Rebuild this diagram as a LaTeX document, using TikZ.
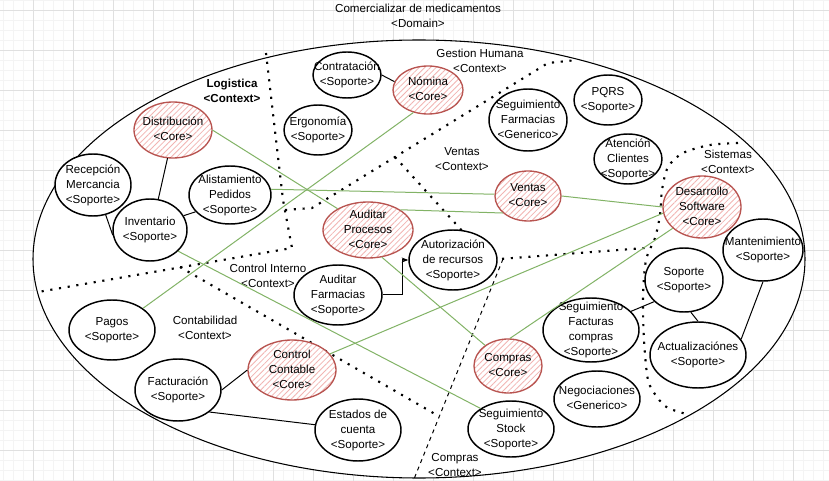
\documentclass[tikz,border=0pt]{standalone}
\usepackage{fontspec}
\setmainfont{Liberation Sans}
\usetikzlibrary{arrows.meta,shapes.geometric,patterns.meta}
\definecolor{coreline}{HTML}{B85450}
\definecolor{corehatch}{HTML}{F2B4B2}
\definecolor{linkgreen}{HTML}{82B366}
\definecolor{gridmajor}{HTML}{E0E0E0}
\definecolor{gridminor}{HTML}{F4F4F4}
\newcommand\lbl[1]{\makebox[0pt]{\smash{\raisebox{-2.6pt}{\begin{tabular}{@{}c@{}}#1\end{tabular}}}}}

\begin{document}
\begin{tikzpicture}[x=0.75pt,y=-0.75pt,>={Stealth[length=5pt]},
    font=\fontsize{8.7}{11.25}\selectfont,
    sz/.style 2 args={minimum width=#1*1.5pt,minimum height=#2*1.5pt},
    soporte/.style={ellipse,draw=black,line width=1.1pt,fill=white,inner sep=0pt},
    core/.style={ellipse,draw=coreline,line width=1pt,inner sep=0pt,preaction={fill=white},
      pattern={Lines[angle=45,distance=3pt,line width=0.6pt]},pattern color=corehatch},
    ctx/.style={align=center,inner sep=0pt},
    bound/.style={line width=1.6pt,dash pattern=on 1.6pt off 5pt},
    link/.style={linkgreen,line width=0.75pt},
    rel/.style={black,line width=0.75pt}]
\useasboundingbox (0,0) rectangle (829,481);

% grid
\foreach \gx in {3,13,...,823} \draw[gridminor,line width=0.4pt] (\gx,0) -- (\gx,481);
\foreach \gy in {0,10,...,480} \draw[gridminor,line width=0.4pt] (0,\gy) -- (829,\gy);
\foreach \gx in {33,73,...,793} \draw[gridmajor,line width=0.6pt] (\gx,0) -- (\gx,481);
\foreach \gy in {10,50,...,450} \draw[gridmajor,line width=0.6pt] (0,\gy) -- (829,\gy);

% domain
\draw[fill=white,line width=0.8pt] (419,259) ellipse [x radius=386,y radius=219];
\node[ctx] (domlbl) at (418,15.5) {Comercializar de medicamentos\\<Domain>};

% context boundaries
\draw[bound] (266,53) -- (283,200) -- (292,248) -- (38,292);
\draw[bound] (285,210) -- (312,208) -- (548,63) -- (577,60);
\draw[bound] (395,157) -- (475,245) -- (500,259) -- (645,248);
\draw[bound] (180,267) -- (435,414);
\draw[bound] plot[smooth] coordinates {(738,143) (710,145) (683,153) (668,167) (662,190)
  (660,215) (655,238) (646,260) (643,297) (644,340) (648,380) (657,397) (668,408) (690,415)};
\draw[line width=0.75pt,dash pattern=on 3pt off 3pt] (503,259) -- (414,479);

% context labels
\node[ctx,font=\fontsize{8.7}{11.25}\selectfont\bfseries] (logctx) at (232,90.5) {Logistica\\<Context>};
\node[ctx] (ghctx) at (480,60.5) {Gestion Humana\\<Context>};
\node[ctx] (venctx) at (462,159) {Ventas\\<Context>};
\node[ctx] (sisctx) at (728,161.5) {Sistemas\\<Context>};
\node[ctx] (cictx) at (268,275.5) {Control Interno\\<Context>};
\node[ctx] (conctx) at (205,327.5) {Contabilidad\\<Context>};
\node[ctx] (comctx) at (455,465.5) {Compras\\<Context>};

% Logistica
\node[core,sz={39}{28}] (dist) at (173,130) {\lbl{Distribución\\<Core>}};
\node[soporte,sz={38}{31}] (recep) at (93,185) {\lbl{Recepción\\Mercancia\\<Soporte>}};
\node[soporte,sz={41}{29}] (alist) at (230,195) {\lbl{Alistamiento\\Pedidos\\<Soporte>}};
\node[soporte,sz={37}{31}] (inv) at (150,230) {\lbl{Inventario\\<Soporte>}};

% Gestion Humana
\node[soporte,sz={34}{23}] (contr) at (347,75) {\lbl{Contratación\\<Soporte>}};
\node[core,sz={35}{24}] (nomina) at (428,90) {\lbl{Nómina\\<Core>}};
\node[soporte,sz={34}{25}] (ergo) at (318,130) {\lbl{Ergonomía\\<Soporte>}};

% Ventas
\node[soporte,sz={39}{31}] (segfarm) at (528,120) {\lbl{Seguimiento\\Farmacias\\<Generico>}};
\node[soporte,sz={34}{25}] (pqrs) at (608,100) {\lbl{PQRS\\<Soporte>}};
\node[soporte,sz={34}{25}] (atcli) at (628,159) {\lbl{Atención\\Clientes\\<Soporte>}};
\node[core,sz={33}{25}] (ventas) at (528,196) {\lbl{Ventas\\<Core>}};

% Sistemas
\node[core,sz={39}{31}] (desa) at (702,207) {\lbl{Desarrollo\\Software\\<Core>}};
\node[soporte,sz={40}{31}] (mant) at (763,250) {\lbl{Mantenimiento\\<Soporte>}};
\node[soporte,sz={39}{32}] (sop) at (684,280) {\lbl{Soporte\\<Soporte>}};
\node[soporte,sz={48}{33}] (actu) at (698,355) {\lbl{Actualizaciónes\\<Soporte>}};

% Control Interno
\node[core,sz={45}{28}] (audp) at (368,230) {\lbl{Auditar\\Procesos\\<Core>}};
\node[soporte,sz={44}{30}] (auth) at (453,260) {\lbl{Autorización\\de recursos\\<Soporte>}};
\node[soporte,sz={44}{30}] (afar) at (338,295) {\lbl{Auditar\\Farmacias\\<Soporte>}};

% Compras
\node[soporte,sz={48}{32}] (sfact) at (591,330) {\lbl{Seguimiento\\Facturas\\compras\\<Soporte>}};
\node[core,sz={34}{27}] (compras) at (508,366) {\lbl{Compras\\<Core>}};
\node[soporte,sz={43}{28}] (negoc) at (597,399) {\lbl{Negociaciones\\<Generico>}};
\node[soporte,sz={43}{28}] (sstock) at (511,429) {\lbl{Seguimiento\\Stock\\<Soporte>}};

% Contabilidad
\node[soporte,sz={43}{30}] (pagos) at (112,330) {\lbl{Pagos\\<Soporte>}};
\node[soporte,sz={43}{31}] (fact) at (178,390) {\lbl{Facturación\\<Soporte>}};
\node[core,sz={44}{30}] (ccont) at (292,370) {\lbl{Control\\Contable\\<Core>}};
\node[soporte,sz={43}{31}] (estados) at (358,430) {\lbl{Estados de\\cuenta\\<Soporte>}};

% relations inside contexts
\draw[rel] (contr.east) -- (nomina.166);
\draw[rel] (dist.259) -- (inv.75);
\draw[rel] (recep.293) -- (inv.188);
\draw[rel] (inv.23) -- (alist.206);
\draw[rel,->] (afar.east) -- ++(20,0) |- (auth.west);
\draw[rel] (fact.east) -- (ccont.west);
\draw[rel] (fact.325) -- (estados.173);
\draw[rel] (sop.216) -- (sfact.25);
\draw[rel] (sop.282) -- (actu.north);
\draw[rel] (mant.south) -- (actu.20);

% links between contexts
\draw[link] (dist.east) -- (audp.145);
\draw[link] (nomina.237) -- (pagos.35);
\draw[link] (alist.8) -- (ventas.177);
\draw[link] (audp.32) -- (ventas.214);
\draw[link] (ventas.east) -- (desa.west);
\draw[link] (desa.189) -- (ccont.23);
\draw[link] (desa.216) -- (compras.86);
\draw[link] (audp.297) -- (compras.138);
\draw[link] (inv.323) -- (sstock.146);
\end{tikzpicture}
\end{document}
